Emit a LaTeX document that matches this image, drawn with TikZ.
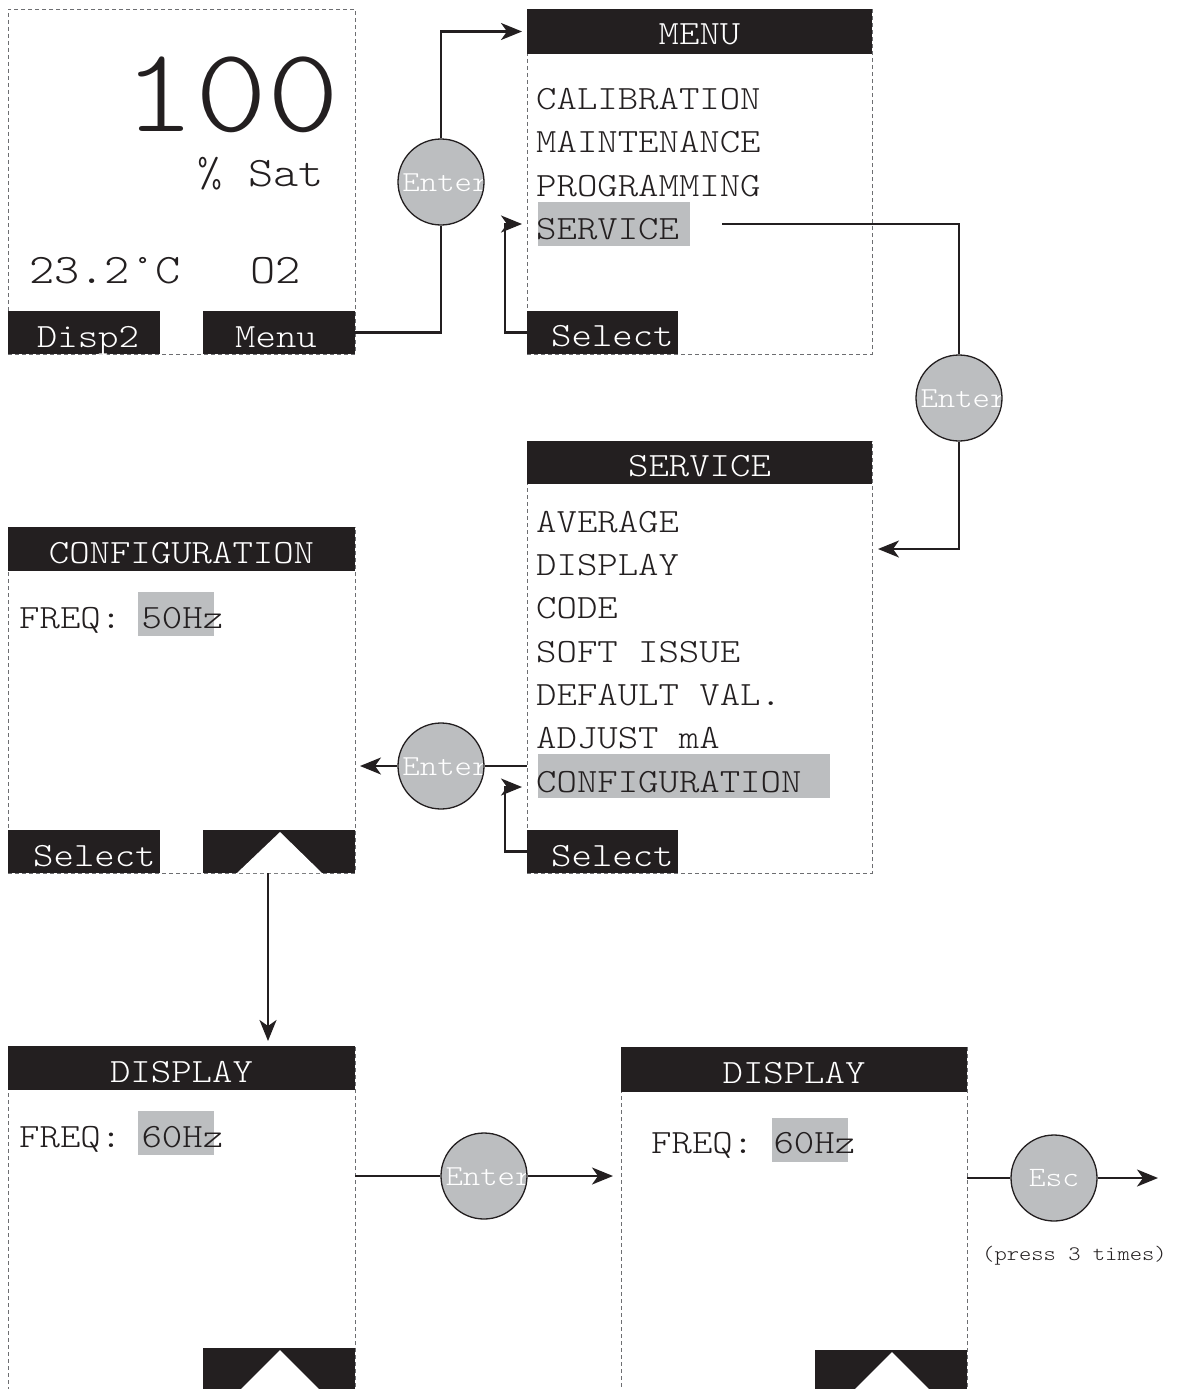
\documentclass[tikz,border=0pt]{standalone}
\usepackage{fontspec}
\newfontfamily\cour{lmmonolt10-regular}[Extension=.otf, FakeStretch=1.143]
\usetikzlibrary{arrows.meta}
\definecolor{barblk}{HTML}{231F20}
\definecolor{hlgray}{HTML}{BCBEC0}
\definecolor{scrgray}{HTML}{6D6E71}
\newcommand\fsz[1]{\cour\fontsize{#1}{#1}\selectfont}
\tikzset{
  scrbox/.style 2 args={draw=scrgray, dash pattern=on 4pt off 3pt, line width=0.9pt,
    inner sep=0pt, outer sep=0pt, anchor=north west, minimum width=#1pt, minimum height=#2pt},
  bar/.style 2 args={fill=barblk, inner sep=0pt, outer sep=0pt, anchor=north west,
    minimum width=#1pt, minimum height=#2pt},
  hlbox/.style={fill=hlgray},
  item/.style={font=\fsz{34}, text=barblk, inner sep=0pt, anchor=base west},
  wtxt/.style={font=\fsz{34}, text=white, inner sep=0pt, anchor=base},
  wtxtl/.style={font=\fsz{34}, text=white, inner sep=0pt, anchor=base west},
  btn/.style={circle, draw=barblk, line width=1.3pt, fill=hlgray, minimum size=86pt, inner sep=0pt,
    path picture={\node[font=\fsz{29}, text=white, inner sep=0pt] at ([xshift=5pt,yshift=-1pt]path picture bounding box.center) {#1};}},
  conn/.style={draw=barblk, line width=2.2pt},
  arr/.style={conn, -{Stealth[length=21pt,width=17pt,inset=6pt]}},
}
\begin{document}
\begin{tikzpicture}[x=1pt,y=-1pt]
\clip (0,0) rectangle (1181,1389);
\fill[white] (0,0) rectangle (1181,1389);

% ---------- screen 1 ----------
\node[scrbox={347}{345}] (s1) at (8,9) {};
\node[bar={152}{43}] (disp2) at (8,311) {};
\node[bar={152}{43}] (menub) at (203,311) {};
\node[wtxt] at (88,347) {Disp2};
\node[wtxt] at (276,347) {Menu};
\node[font=\fsz{120}, text=barblk, inner sep=0pt, text depth=0pt, anchor=base east] (big) at (340,131) {100};
\node[font=\fsz{42}, text=barblk, inner sep=0pt, text height=24pt, anchor=base east] (sat) at (324,186) {\% Sat};
\node[font=\fsz{42}, text=barblk, inner sep=0pt, anchor=base west] (temp) at (29,283) {23.2°C};
\node[font=\fsz{42}, text=barblk, inner sep=0pt, anchor=base west] (o2) at (250,283) {O2};

% ---------- MENU screen ----------
\node[scrbox={345}{345}] (s2) at (527,9) {};
\node[bar={345}{45}] (mtitle) at (527,9) {};
\node[wtxt] at (699.5,44.6) {MENU};
\node[hlbox, inner sep=0pt, outer sep=0pt, anchor=north west, minimum width=152pt, minimum height=44pt] (mhl) at (538,202) {};
\node[item] at (536,109.5) {CALIBRATION};
\node[item] at (536,152.8) {MAINTENANCE};
\node[item] at (536,196.1) {PROGRAMMING};
\node[item] at (536,239.4) {SERVICE};
\node[bar={151}{43}] (msel) at (527,311) {};
\node[wtxtl] at (551,346) {Select};

% ---------- SERVICE screen ----------
\node[scrbox={345}{432}] (s3) at (527,441) {};
\node[bar={345}{43}] (stitle) at (527,441) {};
\node[wtxt] at (699.5,476.5) {SERVICE};
\node[hlbox, inner sep=0pt, outer sep=0pt, anchor=north west, minimum width=292pt, minimum height=44pt] (shl) at (538,754) {};
\node[item] at (536,532.2) {AVERAGE};
\node[item] at (536,575.5) {DISPLAY};
\node[item] at (536,618.8) {CODE};
\node[item] at (536,662.1) {SOFT ISSUE};
\node[item] at (536,705.4) {DEFAULT VAL.};
\node[item] at (536,748.7) {ADJUST mA};
\node[item] at (536,792) {CONFIGURATION};
\node[bar={151}{43}] (ssel) at (527,830) {};
\node[wtxtl] at (551,866) {Select};

% ---------- CONFIGURATION screen ----------
\node[scrbox={347}{346}] (s4) at (8,527) {};
\node[bar={347}{44}] (ctitle) at (8,527) {};
\node[wtxt] at (181.5,563) {CONFIGURATION};
\node[hlbox, inner sep=0pt, outer sep=0pt, anchor=north west, minimum width=76pt, minimum height=44pt] (chl) at (138,592) {};
\node[item] at (19,628) {FREQ: 50Hz};
\node[bar={152}{43}] (csel) at (8,830) {};
\node[wtxtl] at (33,866) {Select};
\node[bar={152}{43}] (cup) at (203,830) {};
\fill[white] (237,873) -- (280,832) -- (322,873) -- cycle;

% ---------- DISPLAY screen 1 ----------
\node[scrbox={347}{400}] (s5) at (8,1046) {};
\node[bar={347}{44}] (dtitle) at (8,1046) {};
\node[wtxt] at (181.5,1082) {DISPLAY};
\node[hlbox, inner sep=0pt, outer sep=0pt, anchor=north west, minimum width=76pt, minimum height=44pt] (dhl) at (138,1111) {};
\node[item] at (19,1147) {FREQ: 60Hz};
\node[bar={152}{60}] (dup) at (203,1348) {};
\fill[white] (228,1402) -- (280,1350) -- (332,1402) -- cycle;

% ---------- DISPLAY screen 2 ----------
\node[scrbox={346}{400}] (s6) at (621,1047) {};
\node[bar={346}{45}] (d2title) at (621,1047) {};
\node[wtxt] at (794,1083) {DISPLAY};
\node[hlbox, inner sep=0pt, outer sep=0pt, anchor=north west, minimum width=76pt, minimum height=44pt] (d2hl) at (772,1118) {};
\node[item] at (651,1153) {FREQ: 60Hz};
\node[bar={152}{60}] (d2up) at (815,1350) {};
\fill[white] (842,1402) -- (892,1352) -- (942,1402) -- cycle;

% ---------- buttons ----------
\node[btn=Enter] (b1) at (441,182) {};
\node[btn=Enter] (b2) at (959,398) {};
\node[btn=Enter] (b3) at (441,766) {};
\node[btn=Enter] (b4) at (484,1176) {};
\node[circle, draw=barblk, line width=1.3pt, fill=hlgray, minimum size=86pt, inner sep=0pt,
      font=\fsz{28}, text=white] (b5) at (1054,1178) {Esc};
\node[font=\fsz{20.5}, text=barblk, inner sep=0pt, anchor=base west] (press) at (982,1260) {(press 3 times)};

% ---------- connectors ----------
\draw[conn] (menub.east) -| (b1.south);
\draw[arr, shorten >=5pt] (b1.north) |- (mtitle.west);
\draw[arr, shorten >=16pt] (msel.west) -- ++(-22,0) |- (mhl.west);

\coordinate (svcout) at (722,224);
\coordinate (svcin) at (878,549);
\draw[conn] (svcout) -| (b2.north);
\draw[arr] (b2.south) |- (svcin);

\coordinate (sselin) at (522,787);
\draw[arr] (ssel.west) -- ++(-22,0) |- (sselin);

\coordinate (cfgout) at (527,766);
\coordinate (cfgin) at (360,766);
\draw[conn] (cfgout) -- (b3.east);
\draw[arr] (b3.west) -- (cfgin);

\coordinate (dtop) at (268,873);
\coordinate (dbot) at (268,1041);
\draw[arr] (dtop) -- (dbot);

\coordinate (d1out) at (355,1176);
\coordinate (d2in) at (613,1176);
\draw[conn] (d1out) -- (b4.west);
\draw[arr] (b4.east) -- (d2in);

\coordinate (d2out) at (967,1178);
\coordinate (escend) at (1158,1178);
\draw[conn] (d2out) -- (b5.west);
\draw[arr] (b5.east) -- (escend);
\end{tikzpicture}
\end{document}
